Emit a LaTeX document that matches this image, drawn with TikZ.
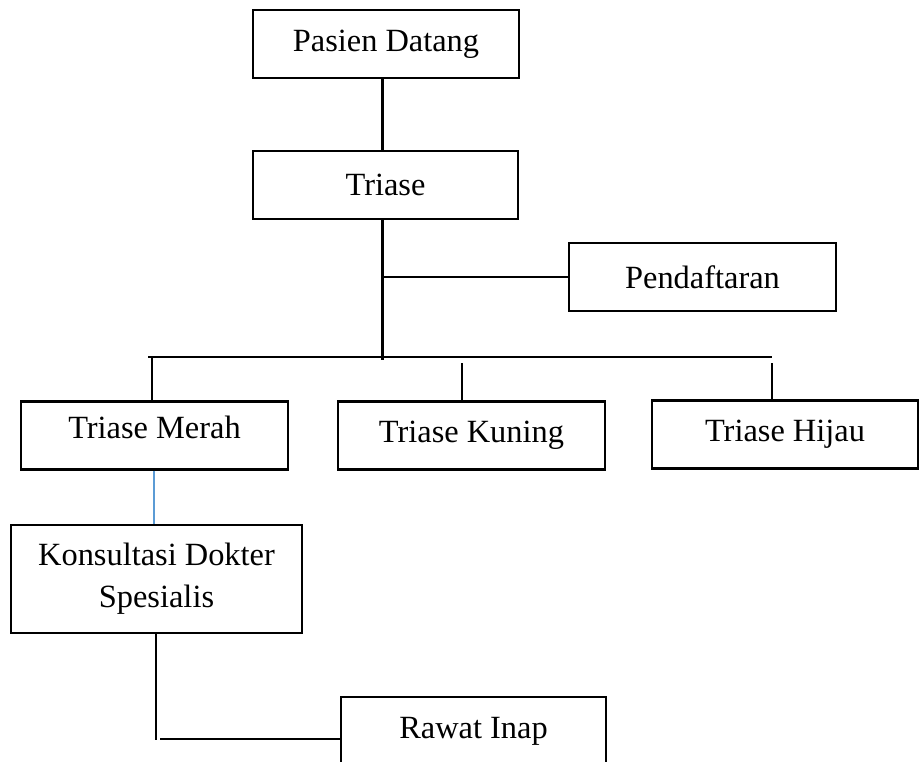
\documentclass[tikz,border=0pt]{standalone}
\usepackage{fontspec}
\setmainfont{Liberation Serif}
\usepackage{xcolor}
\usetikzlibrary{positioning}
\definecolor{linkblue}{RGB}{91,155,213}

\begin{document}
\begin{tikzpicture}[x=0.75pt, y=-0.75pt,
    font=\fontsize{24.3}{31.5}\selectfont,
    box/.style={draw, line width=1.6pt, minimum width=#1*0.75pt, minimum height=51pt,
                align=center, inner sep=0pt},
    link/.style={line width=1.6pt}]
  \useasboundingbox (0,0) rectangle (923,761);
  \clip (0,0) rectangle (923,761);

  % Step A: arrival and triage
  \node[box=266] (pasien) at (386,44) {Pasien Datang};
  \node[box=265] (triase) at (385.5,185) {Triase};
  \node[box=267] (daftar) at (702.5,277) {Pendaftaran};
  \coordinate (trunk) at (382.5,360);
  \draw[link] (pasien.south -| trunk) -- (triase.north -| trunk);
  \draw[link] (triase.south -| trunk) -- (trunk);
  \draw[link] (trunk |- daftar.west) -- (daftar.west);

  % Step B: the three triage colours
  \node[box=267, text depth=12pt] (merah) at (154.5,435.5) {Triase Merah};
  \node[box=267] (kuning) at (471.5,435.5) {Triase Kuning};
  \node[box=266] (hijau) at (785,434.5) {Triase Hijau};
  \coordinate (busL) at (148,357);
  \coordinate (busR) at (772,357);
  \coordinate (dropK) at (462,363);
  \coordinate (dropH) at (772,363);
  \draw[link] (busL) -- (busR);
  \draw[link] (busL -| 152,0) -- (merah.north -| 152,0);
  \draw[link] (dropK) -- (dropK |- kuning.north);
  \draw[link] (dropH) -- (dropH |- hijau.north);

  % Step C: red patients go to the specialist, then inpatient care
  \node[box=291, minimum height=81pt] (konsul) at (156.5,579)
       {Konsultasi Dokter\\Spesialis};
  \node[box=265] (rawat) at (473.5,731) {Rawat Inap};
  \draw[linkblue, line width=0.9pt] (merah.south -| 154,0) -- (konsul.north -| 154,0);
  \coordinate (elbow) at (156,740);
  \coordinate (elbowR) at (160,739);
  \draw[link] (konsul.south -| elbow) -- (elbow);
  \draw[link] (elbowR) -- (elbowR -| rawat.west);
\end{tikzpicture}
\end{document}
